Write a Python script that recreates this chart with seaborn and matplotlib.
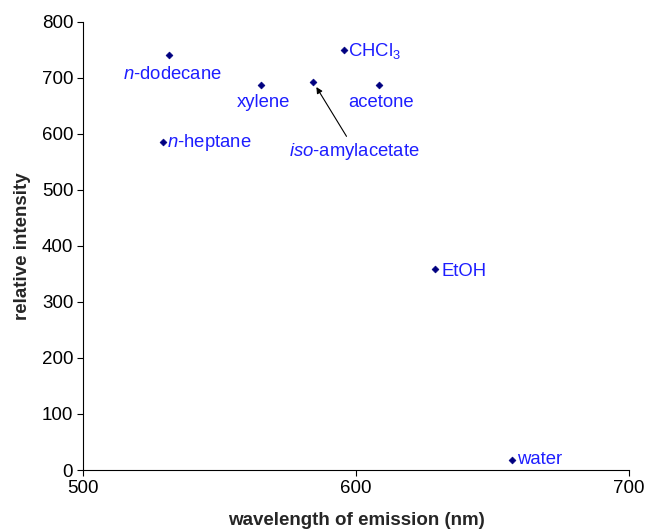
import matplotlib
matplotlib.use("Agg")
import matplotlib.pyplot as plt
import seaborn as sns
import pandas as pd

# Data
solvents = ["n-dodecane", "n-heptane", "xylene", "iso-amylacetate",
            "CHCl3", "acetone", "EtOH", "water"]
wavelength = [531.6, 529.4, 565.1, 584.4, 595.6, 608.4, 628.9, 657.0]
intensity = [741, 586, 688, 692, 750, 688, 358, 18]

labels = ["$n$-dodecane", "$n$-heptane", "xylene", "$iso$-amylacetate",
          "CHCl$_3$", "acetone", "EtOH", "water"]

df = pd.DataFrame({"solvent": solvents, "wavelength": wavelength,
                   "intensity": intensity})

sns.set_style("ticks")
plt.rcParams["font.family"] = ["Liberation Sans", "DejaVu Sans"]
plt.rcParams["mathtext.fontset"] = "custom"
plt.rcParams["mathtext.rm"] = "Liberation Sans"
plt.rcParams["mathtext.it"] = "Liberation Sans:italic"

fig, ax = plt.subplots(figsize=(6.48, 5.32), dpi=100)
fig.subplots_adjust(left=0.128, right=0.971, top=0.959, bottom=0.1165)

sns.scatterplot(data=df, x="wavelength", y="intensity", ax=ax,
                marker="D", s=12, color="#000080", edgecolor="#000080",
                linewidth=0.5, zorder=3)

# label offsets in pixels: (dx, dy, ha)
offsets = {
    "n-dodecane": (3, -20, "center"),
    "n-heptane": (4, -1, "left"),
    "xylene": (3, -18, "center"),
    "CHCl3": (4, -1, "left"),
    "acetone": (2, -18, "center"),
    "EtOH": (6, -2, "left"),
    "water": (5, 0, "left"),
}

blue = "#1e1eff"
lab_size = 13.3
for name, lab, x, y in zip(solvents, labels, wavelength, intensity):
    if name == "iso-amylacetate":
        ax.annotate(lab, xy=(x, y), xytext=(41, -69),
                    textcoords="offset pixels", ha="center", va="center",
                    color=blue, fontsize=lab_size,
                    arrowprops=dict(arrowstyle="-|>", color="black",
                                    lw=0.8, shrinkA=1, shrinkB=4,
                                    mutation_scale=9,
                                    relpos=(0.46, 1.0)))
    else:
        dx, dy, ha = offsets[name]
        ax.annotate(lab, xy=(x, y), xytext=(dx, dy),
                    textcoords="offset pixels", ha=ha, va="center",
                    color=blue, fontsize=lab_size)

ax.set_xlim(500, 700)
ax.set_ylim(0, 800)
ax.set_xticks([500, 600, 700])
ax.set_yticks(range(0, 801, 100))
ax.tick_params(labelsize=13.5, direction="out", length=4, width=0.8,
               colors="black", pad=3)
ax.set_xlabel("wavelength of emission (nm)", fontsize=13.5, fontweight="bold",
              labelpad=11)
ax.set_ylabel("relative intensity", fontsize=13.5, fontweight="bold",
              labelpad=8)
for sp in ["left", "bottom"]:
    ax.spines[sp].set_linewidth(0.8)
    ax.spines[sp].set_color("black")
sns.despine(ax=ax)

plt.savefig("out.png", dpi=100)
